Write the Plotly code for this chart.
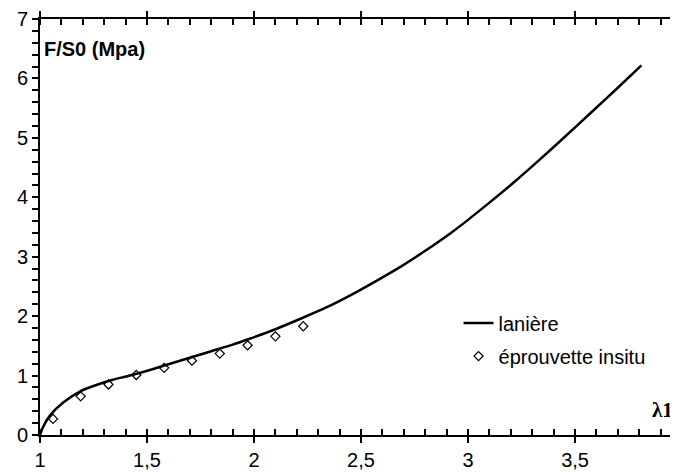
import plotly.graph_objects as go

# stretch lambda1 vs nominal stress F/S0 (MPa)
lam_curve = [1.0, 1.015, 1.047, 1.11, 1.19, 1.27, 1.34, 1.42, 1.51, 1.6, 1.7, 1.8, 1.9, 1.98,
             2.1, 2.22, 2.34, 2.45, 2.57, 2.68, 2.8, 2.92, 3.0, 3.1, 3.22, 3.34, 3.45, 3.57,
             3.69, 3.81]
stress_curve = [0.0, 0.14, 0.33, 0.55, 0.74, 0.85, 0.93, 1.0, 1.09, 1.19, 1.3, 1.41, 1.52, 1.62,
                1.78, 1.96, 2.15, 2.35, 2.59, 2.82, 3.1, 3.4, 3.62, 3.91, 4.27, 4.65, 5.01, 5.41,
                5.81, 6.22]

lam_test = [1.061, 1.19, 1.32, 1.45, 1.58, 1.71, 1.84, 1.97, 2.10, 2.23]
stress_test = [0.27, 0.65, 0.85, 1.01, 1.13, 1.25, 1.37, 1.51, 1.66, 1.83]

FONT = "Liberation Sans, Arial, sans-serif"
X_MAX = 3.981

fig = go.Figure()
fig.add_trace(go.Scatter(x=lam_curve, y=stress_curve, mode="lines", name="lanière",
                         legendgroup="a", line=dict(color="black", width=2.5, shape="spline",
                                                    smoothing=0.6)))
fig.add_trace(go.Scatter(x=lam_test, y=stress_test, mode="markers", name="éprouvette insitu",
                         legendgroup="b",
                         marker=dict(symbol="diamond-open", size=7, color="black",
                                     line=dict(width=1.2, color="black"))))

tick_style = dict(showgrid=False, zeroline=False, tickcolor="black", tickwidth=2)

# page body has an 8px margin, so the figure is shrunk by that much
fig.update_layout(
    width=670, height=468,
    margin=dict(l=32, r=0, t=7, b=41),
    paper_bgcolor="white", plot_bgcolor="white",
    separators=",.",
    font=dict(family=FONT, size=20, color="black"),
    xaxis=dict(range=[1, X_MAX], tick0=1, dtick=0.5, ticks="outside", ticklen=6,
               showline=True, linecolor="black", linewidth=2, mirror="ticks",
               ticklabeloverflow="allow",
               minor=dict(dtick=0.1, ticks="inside", ticklen=6, tickwidth=2, tickcolor="black"),
               **tick_style),
    xaxis2=dict(range=[1, X_MAX], overlaying="x", anchor="y", side="bottom", tick0=1, dtick=0.5,
                ticks="inside", ticklen=6, showticklabels=False, showline=False, mirror="ticks",
                **tick_style),
    yaxis=dict(range=[0, 7], dtick=1, ticks="outside", ticklen=6, showline=True,
               linecolor="black", linewidth=2, ticklabeloverflow="allow",
               minor=dict(dtick=0.2, ticks="outside", ticklen=6, tickwidth=2, tickcolor="black"),
               **tick_style),
    yaxis3=dict(range=[0, 7], overlaying="y", anchor="x", side="left", dtick=1, ticks="inside",
                ticklen=5, showticklabels=False, showline=False, **tick_style),
    yaxis2=dict(range=[-0.11, 8.014], overlaying="y", anchor="x", side="right", dtick=1,
                ticks="inside", ticklen=6, showticklabels=False, showline=False,
                minor=dict(dtick=0.2, ticks="inside", ticklen=5, tickwidth=2, tickcolor="black"),
                **tick_style),
    legend=dict(x=0.656, y=0.316, xanchor="left", yanchor="top", bgcolor="rgba(0,0,0,0)",
                font=dict(family=FONT, size=20), traceorder="grouped", tracegroupgap=4,
                itemwidth=30),
    showlegend=True,
)

fig.add_annotation(text="<b>F/S0 (Mpa)</b>", xref="paper", yref="y", x=0.003, y=6.5,
                   xanchor="left", yanchor="middle", showarrow=False,
                   font=dict(family=FONT, size=20))
fig.add_annotation(text="<b>λ1</b>", xref="x", yref="y", x=3.907, y=0.42,
                   xanchor="center", yanchor="middle", showarrow=False,
                   font=dict(family="Liberation Serif, Times New Roman, serif", size=21))
# the "4" tick label sits just past the right edge of the picture
fig.add_annotation(text="4", xref="paper", yref="paper", x=(4 - 1) / (X_MAX - 1), y=0,
                   xanchor="center", yanchor="top", yshift=-18, showarrow=False,
                   font=dict(family=FONT, size=20))

fig.write_html("out.html")
